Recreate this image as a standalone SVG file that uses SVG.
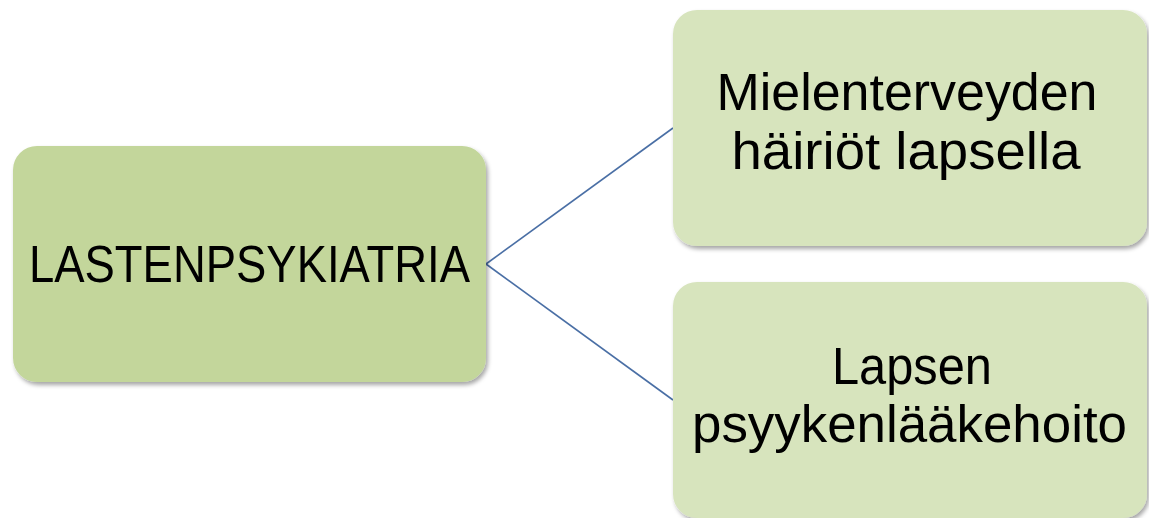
<svg xmlns="http://www.w3.org/2000/svg" width="1149" height="518" viewBox="0 0 1149 518">
<defs>
<filter id="sh" x="-5%" y="-5%" width="112%" height="115%">
<feDropShadow dx="2" dy="3" stdDeviation="2.2" flood-color="#000" flood-opacity="0.35"/>
</filter>
</defs>
<style>
.box{filter:url(#sh)}
.root{fill:#C3D69B}
.child{fill:#D7E4BD}
.t{font-family:"Liberation Sans",Arial,sans-serif;font-size:51px;fill:#000;text-anchor:middle}
.conn{stroke:#4A6FA5;stroke-width:1.6;fill:none}
</style>
<g id="connectors">
<line class="conn" x1="486" y1="264" x2="673" y2="128"/>
<line class="conn" x1="486" y1="264" x2="673" y2="400"/>
</g>
<g id="node-root">
<rect class="box root" x="13" y="146" width="473" height="236" rx="24"/>
<text class="t" x="249.5" y="282" textLength="441" lengthAdjust="spacingAndGlyphs">LASTENPSYKIATRIA</text>
</g>
<g id="node-mielenterveyden">
<rect class="box child" x="673" y="10" width="474" height="236" rx="24"/>
<text class="t" x="907" y="110" textLength="381" lengthAdjust="spacingAndGlyphs">Mielenterveyden</text>
<text class="t" x="906" y="169" textLength="349" lengthAdjust="spacingAndGlyphs">häiriöt lapsella</text>
</g>
<g id="node-psyykenlaakehoito">
<rect class="box child" x="673" y="282" width="474" height="236" rx="24"/>
<text class="t" x="912" y="384" textLength="160" lengthAdjust="spacingAndGlyphs">Lapsen</text>
<text class="t" x="909.5" y="442" textLength="435" lengthAdjust="spacingAndGlyphs">psyykenlääkehoito</text>
</g>
</svg>
